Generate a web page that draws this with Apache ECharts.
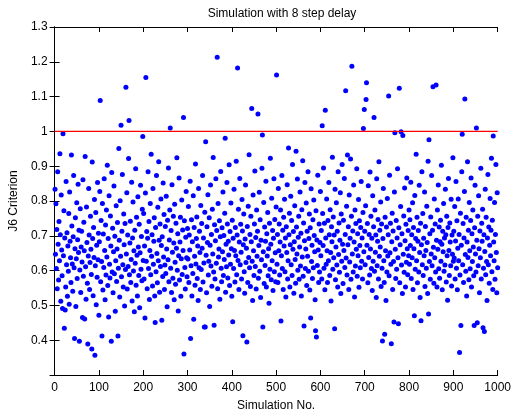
<!DOCTYPE html>
<html>
<head>
<meta charset="utf-8">
<script src="https://cdn.jsdelivr.net/npm/echarts@6/dist/echarts.min.js"></script>
<style>
html,body{margin:0;padding:0;background:#fff;}
#chart{width:514px;height:417px;}
</style>
</head>
<body>
<div id="chart"></div>
<script>
// Simulation numbers run 1..1000; J6 criterion value for each simulation
const j6_001_100 = [
0.834,0.647,0.792,0.606,0.718,0.548,0.884,0.676,0.573,0.741,
0.628,0.936,0.703,0.512,0.817,0.659,0.585,0.491,0.993,0.643,
0.772,0.434,0.694,0.487,0.553,0.856,0.617,0.709,0.526,0.671,
0.598,0.764,0.503,0.826,0.684,0.637,0.566,0.932,0.728,0.619,
0.541,0.697,0.873,0.608,0.405,0.663,0.752,0.497,0.634,0.795,
0.577,0.689,0.848,0.652,0.716,0.397,0.602,0.778,0.537,0.668,
0.713,0.625,0.465,0.861,0.584,0.739,0.657,0.461,0.928,0.611,
0.518,0.783,0.681,0.564,0.389,0.642,0.836,0.702,0.546,0.623,
0.756,0.661,0.589,0.375,0.912,0.692,0.528,0.724,0.638,0.804,
0.357,0.614,0.767,0.502,0.673,0.581,0.853,0.631,0.707,0.472];
const j6_101_200 = [
0.683,0.827,1.089,0.568,0.744,0.626,0.412,0.793,0.544,0.705,
0.609,0.864,0.658,0.516,0.731,0.587,0.774,0.639,0.903,0.557,
0.692,0.467,0.815,0.618,0.579,0.757,0.671,0.397,0.882,0.596,
0.722,0.536,0.654,0.843,0.591,0.699,0.483,0.628,0.786,0.569,
0.662,0.738,0.412,0.607,0.951,0.687,0.524,0.801,0.641,1.018,
0.582,0.713,0.876,0.617,0.553,0.763,0.674,0.498,0.735,0.603,
1.127,0.648,0.824,0.547,0.702,0.612,0.922,1.031,0.588,0.679,
0.742,0.566,0.632,0.854,0.513,0.694,0.797,0.599,0.657,0.482,
0.716,0.621,0.893,0.558,0.753,0.644,0.527,0.812,0.668,0.586,
0.733,0.493,0.651,0.845,0.604,0.698,0.571,0.776,0.985,0.629];
const j6_201_300 = [
0.764,0.576,0.671,0.464,0.823,1.155,0.627,0.712,0.548,0.693,
0.884,0.606,0.741,0.517,0.658,0.793,0.588,0.934,0.641,0.703,
0.556,0.836,0.618,0.684,0.752,0.527,0.451,0.724,0.597,0.873,
0.649,0.565,0.782,0.628,0.913,0.687,0.538,0.734,0.612,0.806,
0.672,0.457,0.697,0.583,0.852,0.639,0.761,0.546,0.616,0.727,
0.592,0.814,0.662,0.496,0.745,0.631,0.895,0.568,0.688,0.774,
1.010,0.607,0.715,0.537,0.847,0.653,0.578,0.756,0.679,0.516,
0.791,0.624,0.561,0.736,0.664,0.924,0.601,0.706,0.484,0.643,
0.866,0.573,0.682,0.753,0.526,0.634,0.803,0.589,0.717,0.658,
1.040,0.360,0.743,0.609,0.547,0.696,0.827,0.637,0.582,0.721];
const j6_301_400 = [
0.633,0.784,0.566,0.702,0.659,0.857,0.405,0.614,0.746,0.527,
0.683,0.592,0.815,0.460,0.724,0.641,0.558,0.906,0.619,0.692,
0.754,0.577,0.671,0.514,0.836,0.608,0.713,0.652,0.546,0.787,
0.603,0.735,0.664,0.873,0.567,0.694,0.622,0.438,0.768,0.438,
0.970,0.644,0.536,0.726,0.681,0.818,0.587,0.627,0.752,0.497,
0.673,0.846,0.613,0.704,0.555,0.776,0.648,0.925,0.596,0.443,
0.732,0.576,0.686,0.864,0.621,0.715,1.213,0.548,0.793,0.639,
0.662,0.743,0.518,0.697,0.885,0.607,0.568,0.723,0.654,0.826,
0.586,0.701,0.632,0.765,0.980,0.538,0.676,0.611,0.853,0.734,
0.579,0.684,0.645,0.904,0.557,0.712,0.618,0.794,0.663,0.526];
const j6_401_500 = [
0.745,0.453,0.693,0.606,0.834,0.658,0.567,0.724,0.643,0.914,
0.588,0.702,1.182,0.629,0.776,0.546,0.682,0.865,0.617,0.733,
0.653,0.576,0.804,0.714,0.413,0.674,0.763,0.597,0.535,0.691,
0.846,0.623,0.664,0.395,0.727,0.566,0.785,0.638,0.933,0.608,
0.704,0.554,0.756,0.683,1.066,0.627,0.514,0.817,0.657,0.586,
0.734,0.886,0.612,0.695,0.547,0.774,0.641,0.713,1.050,0.578,
0.672,0.825,0.598,0.746,0.523,0.687,0.631,0.894,0.990,0.438,
0.654,0.796,0.563,0.725,0.615,0.684,0.857,0.553,0.706,0.642,
0.767,0.585,0.663,0.506,0.736,0.604,0.923,0.676,0.574,0.808,
0.628,0.715,0.543,0.693,0.864,0.597,0.747,0.651,0.568,0.783];
const j6_501_600 = [
1.162,0.618,0.704,0.566,0.836,0.657,0.734,0.587,0.682,0.774,
0.455,0.643,0.873,0.606,0.716,0.546,0.753,0.671,0.805,0.597,
0.694,0.524,0.726,0.652,0.847,0.576,0.628,0.952,0.703,0.765,
0.553,0.674,0.814,0.617,0.744,0.586,0.905,0.661,0.712,0.535,
0.683,0.786,0.632,0.564,0.943,0.725,0.648,0.863,0.601,0.696,
0.756,0.575,0.668,0.826,0.613,0.707,0.527,0.775,0.639,0.916,
0.584,0.737,0.441,0.686,0.853,0.606,0.662,0.794,0.557,0.713,
0.641,0.884,0.598,0.692,0.763,0.544,0.723,0.464,0.835,0.626,
0.673,0.577,0.746,0.608,0.803,0.701,0.654,0.516,0.427,0.772,
0.409,0.688,0.615,0.874,0.659,0.566,0.734,0.596,0.681,0.827];
const j6_601_700 = [
0.643,0.715,0.576,1.016,0.764,0.672,0.895,0.607,0.736,0.545,
1.061,0.694,0.618,0.806,0.657,0.566,0.744,0.628,0.853,0.703,
0.586,0.775,0.652,0.513,0.726,0.683,0.926,0.604,0.754,0.637,
0.702,0.433,0.834,0.574,0.668,0.795,0.616,0.713,0.553,0.884,
0.646,0.737,0.595,0.687,0.824,0.534,0.763,0.627,0.905,0.676,
0.563,0.745,0.658,0.865,0.609,0.704,1.117,0.636,0.785,0.587,
0.932,0.674,0.726,0.546,0.817,0.625,0.693,0.921,0.575,0.756,
1.187,0.648,0.714,0.596,0.846,0.682,0.524,0.774,0.613,0.735,
0.661,0.893,0.584,0.706,0.643,0.804,0.552,0.743,0.672,0.608,
0.724,0.856,0.627,0.694,0.576,0.767,1.008,0.654,1.063,0.713];
const j6_701_800 = [
0.617,0.786,1.092,1.140,0.673,0.735,0.565,0.844,0.638,0.704,
0.587,0.883,0.662,0.756,0.606,0.693,0.543,0.815,0.627,0.726,
1.040,0.598,0.774,0.653,0.702,0.523,0.864,0.614,0.684,0.747,
0.576,0.913,0.641,0.716,0.668,0.797,0.554,0.734,0.607,0.398,
0.692,0.836,0.628,0.566,0.417,0.753,0.657,0.514,0.725,0.596,
0.807,0.642,0.703,1.102,0.585,0.874,0.651,0.736,0.618,0.390,
0.683,0.765,0.546,0.714,0.626,0.452,0.826,0.996,0.661,0.577,
0.744,0.604,0.694,0.893,0.637,0.447,0.723,1.124,0.565,0.674,
0.784,0.999,0.616,0.706,0.534,0.988,0.647,0.757,0.595,0.837,
0.686,0.553,0.733,0.624,0.866,0.663,0.588,0.715,0.643,0.774];
const j6_801_900 = [
0.618,0.746,0.672,0.854,0.577,0.703,0.637,0.795,0.546,0.724,
0.663,0.470,0.816,0.604,0.692,0.934,0.628,0.753,0.565,0.684,
0.715,0.596,0.845,0.652,0.523,0.736,0.456,0.674,0.884,0.617,
0.764,0.586,0.693,0.643,0.826,0.554,0.727,0.658,0.607,0.785,
0.681,0.534,0.914,0.475,0.976,0.626,0.706,0.575,0.754,0.648,
0.873,0.614,0.716,1.128,0.667,0.564,0.806,0.637,0.734,0.596,
1.133,0.687,0.553,0.774,0.661,0.846,0.605,0.725,0.578,0.683,
0.745,0.627,0.903,0.676,0.545,0.713,0.654,0.793,0.598,0.694,
0.616,0.834,0.703,0.567,0.756,0.643,0.515,0.724,0.865,0.658,
0.586,0.737,0.682,0.614,0.805,0.556,0.702,0.647,0.924,0.627];
const j6_901_1000 = [
0.713,0.636,0.784,0.576,0.685,0.856,0.607,0.743,0.545,0.664,
0.806,0.628,0.704,0.365,0.587,0.765,0.442,0.673,0.884,0.992,
0.617,0.735,0.566,0.694,0.827,1.093,0.646,0.598,0.753,0.527,
0.682,0.913,0.638,0.716,0.574,0.796,0.657,0.605,0.744,0.866,
0.553,0.706,0.626,0.774,0.668,0.585,0.442,0.723,0.845,0.648,
0.596,1.010,0.687,0.450,0.756,0.614,0.815,0.663,0.536,0.714,
0.637,0.894,0.576,0.736,0.684,0.776,0.436,0.607,0.703,0.425,
0.655,0.834,0.588,0.753,0.626,0.514,0.694,0.876,0.617,0.725,
0.564,0.673,0.807,0.643,0.716,0.923,0.597,0.745,0.546,0.987,
0.682,0.628,0.796,0.575,0.704,0.905,0.652,0.536,0.824,0.608];
const threshold = 1.0;
const xTicks = [0,100,200,300,400,500,600,700,800,900,1000];
const yTicks = [0.4,0.5,0.6,0.7,0.8,0.9,1,1.1,1.2,1.3];

const allJ6 = [].concat(j6_001_100, j6_101_200, j6_201_300, j6_301_400, j6_401_500,
  j6_501_600, j6_601_700, j6_701_800, j6_801_900, j6_901_1000);
const points = allJ6.map((v, i) => [i + 1, v]);

const chart = echarts.init(document.getElementById('chart'), null, {renderer: 'canvas'});
const fontFam = '"Liberation Sans", Arial, Helvetica, sans-serif';
const axisCommon = {
  axisLine: {show: true, lineStyle: {color: '#000', width: 1}},
  axisTick: {show: true, inside: true, length: 5, lineStyle: {color: '#000'}},
  splitLine: {show: false}
};
chart.setOption({
  animation: false,
  backgroundColor: '#fff',
  title: {
    text: 'Simulation with 8 step delay',
    left: 277, top: 3, textAlign: 'center',
    textStyle: {fontFamily: fontFam, fontSize: 12, fontWeight: 'normal', color: '#000'}
  },
  grid: {left: 52, right: 14, top: 27, bottom: 38, containLabel: false},
  xAxis: [{
    type: 'value', min: 0, max: 1000, interval: 100, position: 'bottom',
    name: 'Simulation No.', nameLocation: 'middle', nameGap: 25,
    nameTextStyle: {fontFamily: fontFam, fontSize: 12, color: '#000'},
    axisLabel: {fontFamily: fontFam, fontSize: 12, color: '#000', margin: 7,
      formatter: v => xTicks.includes(v) ? String(v) : ''},
    ...axisCommon
  }, {
    type: 'value', min: 0, max: 1000, interval: 100, position: 'top',
    axisLabel: {show: false}, ...axisCommon
  }],
  yAxis: [{
    type: 'value', min: 0.3, max: 1.3, interval: 0.1, position: 'left',
    name: 'J6 Criterion', nameLocation: 'middle', nameGap: 30, nameRotate: 90,
    nameTextStyle: {fontFamily: fontFam, fontSize: 12, color: '#000'},
    axisLabel: {fontFamily: fontFam, fontSize: 12, color: '#000', margin: 7,
      formatter: v => {
        const r = Math.round(v * 10) / 10;
        return yTicks.some(t => Math.abs(t - r) < 1e-9) ? (r === 1 ? '1' : r.toFixed(1)) : '';
      }},
    ...axisCommon
  }, {
    type: 'value', min: 0.3, max: 1.3, interval: 0.1, position: 'right',
    axisLabel: {show: false}, ...axisCommon
  }],
  series: [{
    type: 'scatter', data: points, symbol: 'circle', symbolSize: 5,
    itemStyle: {color: '#0000ff', opacity: 1}, silent: true
  }, {
    type: 'line', data: [[0, threshold], [1000, threshold]], symbol: 'none',
    lineStyle: {color: '#ff0000', width: 1.3}, silent: true
  }]
});
</script>
</body>
</html>
